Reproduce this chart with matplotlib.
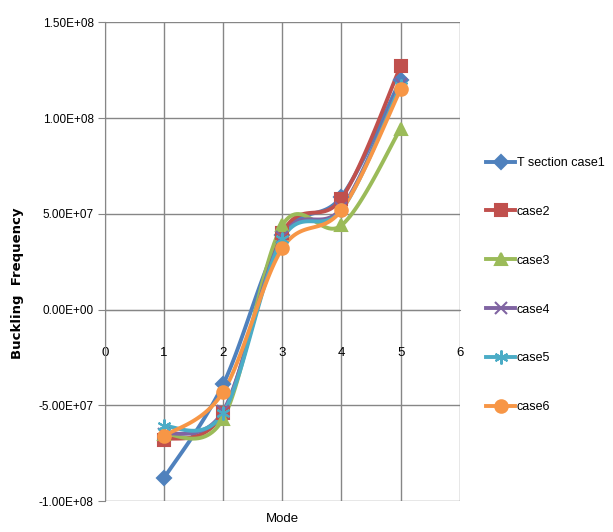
import numpy as np
import matplotlib.pyplot as plt
from matplotlib.lines import Line2D

plt.rcParams['font.family'] = ['Liberation Sans', 'DejaVu Sans']

modes = [1, 2, 3, 4, 5]
case1 = [-8.8e7, -3.9e7, 3.9e7, 5.9e7, 1.20e8]
case2 = [-6.8e7, -5.4e7, 4.0e7, 5.8e7, 1.27e8]
case3 = [-6.5e7, -5.7e7, 4.4e7, 4.4e7, 9.45e7]
case4 = [-6.5e7, -5.3e7, 3.8e7, 5.3e7, 1.18e8]
case5 = [-6.1e7, -5.4e7, 3.7e7, 5.2e7, 1.17e8]
case6 = [-6.6e7, -4.3e7, 3.2e7, 5.2e7, 1.15e8]
labels = ['T section case1', 'case2', 'case3', 'case4', 'case5', 'case6']

colors = ['#4F81BD', '#C0504D', '#9BBB59', '#8064A2', '#4BACC6', '#F79646']
markers = ['D', 's', '^', 'x', (6, 2, 0), 'o']
msizes = [7, 8, 9, 9, 10, 9]


def smooth(x, y, n=30):
    # Catmull-Rom style curve like Excel's "smoothed line"
    x = np.asarray(x, float)
    y = np.asarray(y, float)
    px = np.concatenate([[x[0]], x, [x[-1]]])
    py = np.concatenate([[y[0]], y, [y[-1]]])
    xs, ys = [], []
    t = np.linspace(0, 1, n)
    for i in range(1, len(px) - 2):
        p0, p1, p2, p3 = (np.array([px[j], py[j]]) for j in range(i - 1, i + 3))
        c1 = p1 + (p2 - p0) / 6
        c2 = p2 - (p3 - p1) / 6
        b = ((1 - t) ** 3)[:, None] * p1 + (3 * (1 - t) ** 2 * t)[:, None] * c1 \
            + (3 * (1 - t) * t ** 2)[:, None] * c2 + (t ** 3)[:, None] * p2
        xs.extend(b[:, 0])
        ys.extend(b[:, 1])
    return xs, ys


fig = plt.figure(figsize=(6.13, 5.32), dpi=100)
ax = fig.add_axes([0.171, 0.058, 0.579, 0.9])

series = [case1, case2, case3, case4, case5, case6]
handles = []
for vals, c, m, ms, lab in zip(series, colors, markers, msizes, labels):
    sx, sy = smooth(modes, vals)
    ax.plot(sx, sy, color=c, lw=2.8, solid_capstyle='round', zorder=3)
    ax.plot(modes, vals, ls='none', marker=m, ms=ms, color=c, mec=c,
            mew=1.5, zorder=4)
    handles.append(Line2D([], [], color=c, lw=2.8, marker=m, ms=ms, mec=c,
                          mew=1.5))

ax.set_xlim(0, 6)
ax.set_ylim(-1e8, 1.5e8)
ax.set_yticks(np.arange(-1e8, 1.51e8, 5e7))
ax.set_yticklabels(['-1.00E+08', '-5.00E+07', '0.00E+00', '5.00E+07',
                    '1.00E+08', '1.50E+08'])
ax.set_xticks(range(0, 7))
ax.grid(True, color='#868686', lw=1)
ax.set_axisbelow(True)

for s in ['top', 'right']:
    ax.spines[s].set_visible(False)
ax.spines['left'].set_color('#868686')
ax.spines['bottom'].set_position(('data', 0))
ax.spines['bottom'].set_color('#868686')
ax.tick_params(axis='y', length=5, color='#868686', labelsize=8.5, pad=3)
ax.tick_params(axis='x', length=0, labelsize=9.5, pad=27)

ax.set_ylabel('Buckling  Frequency', fontsize=9.5, fontweight='bold',
              family='DejaVu Sans')
ax.yaxis.set_label_coords(-0.228, 0.455)
ax.set_xlabel('Mode', fontsize=9.5, labelpad=2)
ax.xaxis.set_label_coords(0.5, -0.025)

fig.legend(handles, labels, loc='center left', bbox_to_anchor=(0.775, 0.464),
           frameon=False, fontsize=9, labelspacing=2.95, handlelength=2.3,
           handletextpad=0.15)

fig.savefig('out.png', dpi=100)
